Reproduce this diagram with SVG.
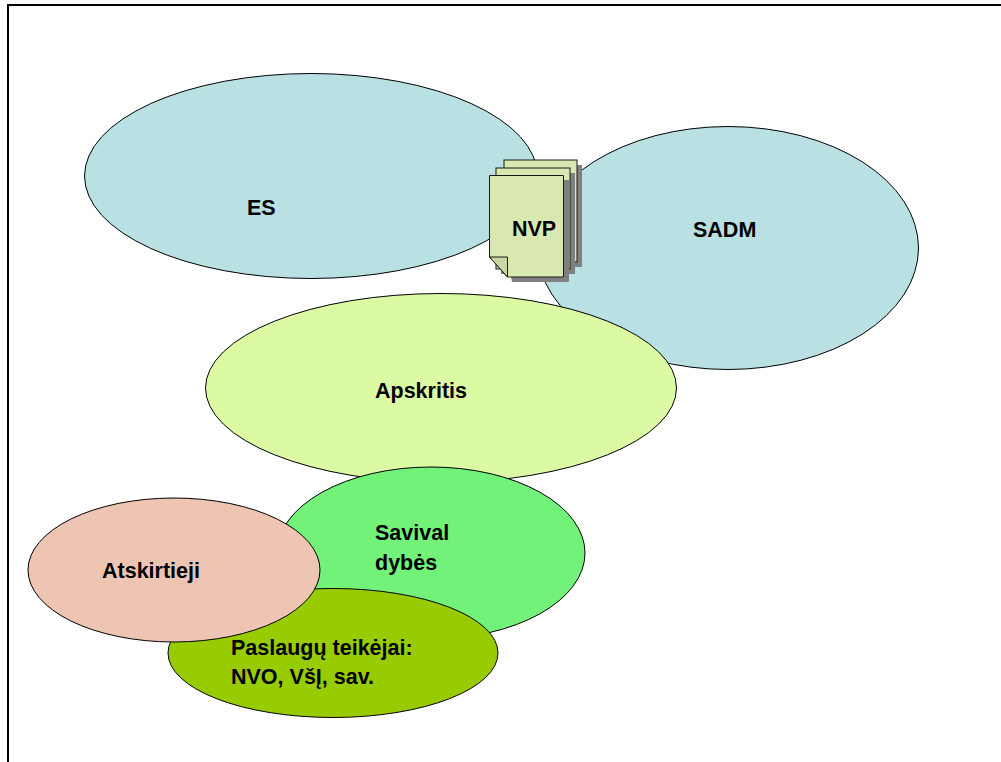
<svg xmlns="http://www.w3.org/2000/svg" width="1001" height="762" viewBox="0 0 1001 762">
<style>
.e{stroke:#000;stroke-width:1}
.p{fill:#d9e8b0;stroke:#1a1a1a;stroke-width:1}
.s{fill:#808080}
text{font-family:"Liberation Sans",Arial,sans-serif;font-weight:bold;font-size:21.5px;fill:#000}
</style>
<rect width="1001" height="762" fill="#fff"/>
<path id="frame" d="M8 762V5H1001" fill="none" stroke="#000" stroke-width="2"/>
<g id="sadm"><ellipse class="e" cx="728" cy="248" rx="190.500" ry="121.500" fill="#b9e0e3"/><text x="693" y="237">SADM</text></g>
<g id="es"><ellipse class="e" cx="311" cy="176" rx="226.500" ry="102.500" fill="#b9e0e3"/><text x="247" y="215">ES</text></g>
<g id="apskritis"><ellipse class="e" cx="441" cy="388" rx="235.500" ry="94.500" fill="#dcf9a4"/><text x="375" y="398">Apskritis</text></g>
<g id="savivaldybes"><ellipse class="e" cx="431" cy="553" rx="154" ry="86" fill="#72f278"/><text x="375" y="540">Savival</text><text x="375" y="570">dybės</text></g>
<g id="paslaugos"><ellipse class="e" cx="333" cy="653" rx="165" ry="64.500" fill="#99cc00"/><text x="231" y="655">Paslaugų teikėjai:</text><text x="231" y="684">NVO, VšĮ, sav.</text></g>
<g id="atskirtieji"><ellipse class="e" cx="174" cy="570" rx="146" ry="72" fill="#eec4b2"/><text x="102" y="578">Atskirtieji</text></g>
<g id="nvp">
<rect class="s" x="509" y="165" width="73" height="102"/>
<rect class="p" x="504" y="160" width="73" height="102"/>
<rect class="s" x="501" y="173" width="74" height="101"/>
<rect class="p" x="496" y="168" width="74" height="101"/>
<path class="s" d="M494 180H569V282H512Z"/>
<path class="p" d="M489.500 175.500H563.500V277H507.500L489.500 257Z"/>
<path d="M489.500 257H507.500V277Z" fill="#c9d8a0" stroke="#1a1a1a"/>
<text x="512" y="236">NVP</text>
</g>
</svg>
